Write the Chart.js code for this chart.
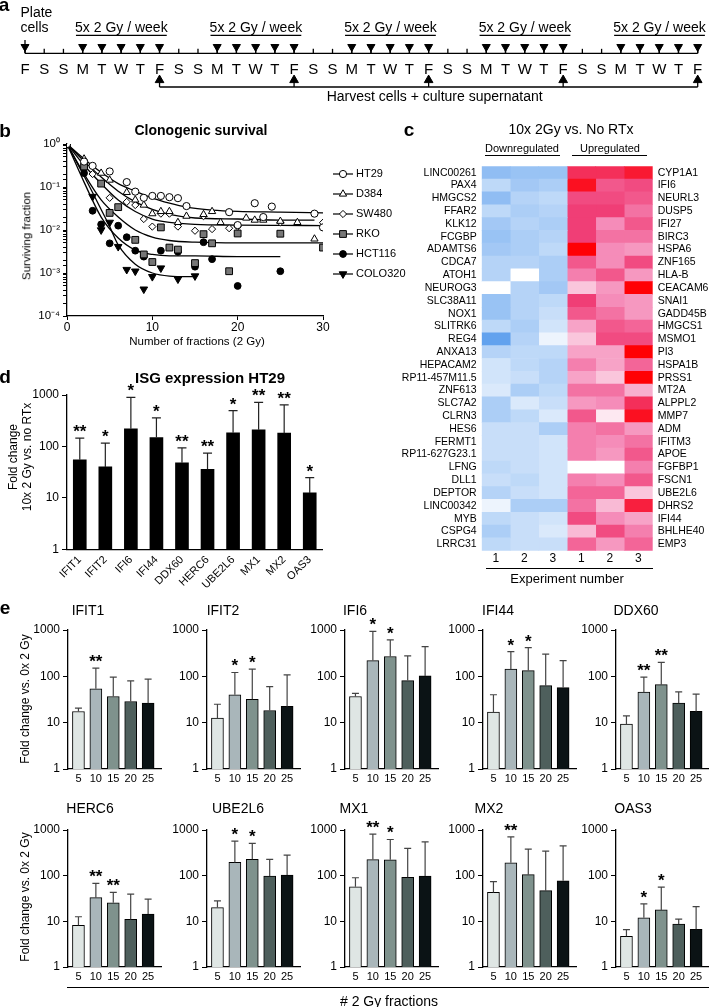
<!DOCTYPE html>
<html>
<head>
<meta charset="utf-8">
<title>Radiation induced ISG expression</title>
<script src="https://cdn.jsdelivr.net/npm/chart.js@4.4.1/dist/chart.umd.min.js"></script>
<style>
  html, body { margin: 0; padding: 0; background: #fff; }
  #page { position: relative; width: 709px; height: 1007px; overflow: hidden; background: #fff;
          font-family: "Liberation Sans", Arial, Helvetica, sans-serif; color: #000; }
  #page canvas { position: absolute; }
  .t { position: absolute; white-space: nowrap; line-height: 1; }
  .rule { position: absolute; height: 0; border-top: 1.3px solid #000; }
</style>
</head>
<body>
<div id="page"></div>
<script>
// ===== panel a : schedule =====
const days = ['F','S','S','M','T','W','T','F','S','S','M','T','W','T','F','S','S','M','T','W','T','F',
              'S','S','M','T','W','T','F','S','S','M','T','W','T','F'];
const irrDays = [3,4,5,6,7, 10,11,12,13,14, 17,18,19,20,21, 24,25,26,27,28, 31,32,33,34,35];
const weekBlocks = [[3,7],[10,14],[17,21],[24,28],[31,35]];
const weekLabel = '5x 2 Gy / week';
const harvestDays = [7,14,21,28,35];
const plateDay = 0;
const harvestLabel = 'Harvest cells + culture supernatant';

// ===== panel b : clonogenic survival =====
const cellLines = ['HT29','D384','SW480','RKO','HCT116','COLO320'];
const ht29Pts = [[0,1],[2,0.39],[3,0.31],[5,0.23],[7,0.13],[8,0.078],[9,0.056],[10,0.062],[11,0.062],[12,0.058],
                 [13,0.055],[14,0.036],[19,0.026],[20,0.013],[22,0.042],[23,0.02],[24,0.035],[29,0.024],[30,0.0115]];
const d384Pts = [[0,1],[2,0.45],[4,0.21],[5,0.145],[7,0.075],[8,0.05],[9,0.038],[10,0.024],[11,0.027],[12,0.027],
                 [13,0.015],[14,0.021],[16,0.023],[17,0.027],[18,0.015],[21,0.019],[22,0.017],[23,0.017],[25,0.016],[27,0.015],[29,0.0062]];
const sw480Pts = [[0,1],[3,0.2],[5,0.056],[7,0.045],[8,0.038],[9,0.018],[10,0.012],[11,0.024],[12,0.024],[13,0.012],
                  [15,0.0096],[16,0.021],[17,0.0105],[19,0.011],[20,0.012],[25,0.015],[30,0.0148]];
const rkoPts = [[0,1],[2,0.3],[4,0.12],[5,0.025],[6,0.034],[8,0.0059],[9,0.0027],[10,0.0018],[11,0.0115],[12,0.0039],
                [13,0.0035],[15,0.0017],[16,0.008],[17,0.0049],[19,0.0011],[20,0.0083],[25,0.0082],[30,0.0039]];
const hct116Pts = [[0,1],[2,0.21],[3,0.028],[4,0.0135],[5,0.0049],[6,0.0126],[7,0.0068],[8,0.0033],[9,0.0024],
                   [11,0.0033],[13,0.0031],[15,0.0014],[16,0.0052],[17,0.0021],[20,0.0005],[25,0.0011]];
const colo320Pts = [[0,1],[2,0.25],[3,0.06],[4,0.01],[5,0.015],[6,0.0041],[7,0.0012],[8,0.0011],[9,0.00042],
                    [10,0.00082],[11,0.0013],[13,0.00072],[15,0.00085]];
const ht29Fit = [[0,1],[2,0.45],[4,0.22],[6,0.12],[8,0.08],[10,0.055],[12,0.042],[14,0.034],[17,0.029],[20,0.027],[25,0.026],[30,0.025]];
const d384Fit = [[0,1],[2,0.4],[4,0.17],[6,0.08],[8,0.045],[10,0.03],[12,0.023],[15,0.019],[20,0.018],[25,0.017],[29,0.017]];
const sw480Fit = [[0,1],[2,0.32],[4,0.12],[6,0.05],[8,0.027],[10,0.018],[12,0.015],[15,0.0135],[20,0.013],[25,0.0128],[30,0.0127]];
const rkoFit = [[0,1],[2,0.2],[4,0.05],[6,0.02],[8,0.01],[10,0.0068],[12,0.0057],[15,0.0052],[20,0.005],[25,0.005],[30,0.005]];
const hct116Fit = [[0,1],[2,0.13],[4,0.02],[6,0.0065],[8,0.0034],[10,0.0027],[12,0.0025],[15,0.0025],[20,0.0024],[25,0.0024]];
const colo320Fit = [[0,1],[2,0.18],[4,0.03],[5,0.012],[6,0.0045],[8,0.0016],[10,0.001],[12,0.00085],[15,0.00082]];

// ===== panel c : heatmap =====
const downGenes = ['LINC00261','PAX4','HMGCS2','FFAR2','KLK12','FCGBP','ADAMTS6','CDCA7','ATOH1','NEUROG3',
  'SLC38A11','NOX1','SLITRK6','REG4','ANXA13','HEPACAM2','RP11-457M11.5','ZNF613','SLC7A2','CLRN3',
  'HES6','FERMT1','RP11-627G23.1','LFNG','DLL1','DEPTOR','LINC00342','MYB','CSPG4','LRRC31'];
const upGenes = ['CYP1A1','IFI6','NEURL3','DUSP5','IFI27','BIRC3','HSPA6','ZNF165','HLA-B','CEACAM6',
  'SNAI1','GADD45B','HMGCS1','MSMO1','PI3','HSPA1B','PRSS1','MT2A','ALPPL2','MMP7',
  'ADM','IFITM3','APOE','FGFBP1','FSCN1','UBE2L6','DHRS2','IFI44','BHLHE40','EMP3'];
// intensity of down-regulation (blue) / up-regulation (red), 0 = white
const downScores = [[0.6,0.55,0.55],[0.35,0.5,0.45],[0.6,0.4,0.35],[0.35,0.45,0.4],[0.5,0.4,0.45],
  [0.55,0.45,0.4],[0.5,0.45,0.35],[0.4,0.4,0.45],[0.4,0.0,0.45],[0.0,0.4,0.5],
  [0.55,0.4,0.35],[0.55,0.4,0.3],[0.35,0.45,0.25],[0.85,0.4,0.1],[0.4,0.35,0.35],
  [0.25,0.35,0.4],[0.25,0.3,0.4],[0.2,0.45,0.35],[0.45,0.2,0.3],[0.45,0.35,0.2],
  [0.3,0.3,0.45],[0.3,0.3,0.25],[0.3,0.3,0.25],[0.35,0.3,0.25],[0.3,0.35,0.25],
  [0.4,0.3,0.25],[0.1,0.45,0.45],[0.35,0.3,0.25],[0.45,0.3,0.2],[0.35,0.3,0.3]];
const upScores = [[0.85,0.85,0.92],[0.95,0.7,0.75],[0.75,0.75,0.7],[0.8,0.8,0.6],[0.8,0.5,0.7],
  [0.8,0.6,0.6],[1.0,0.5,0.45],[0.7,0.5,0.75],[0.55,0.7,0.45],[0.25,0.45,1.0],
  [0.8,0.5,0.45],[0.7,0.6,0.45],[0.4,0.7,0.65],[0.25,0.75,0.75],[0.4,0.4,1.0],
  [0.55,0.4,0.65],[0.4,0.25,1.0],[0.6,0.6,0.35],[0.45,0.5,0.85],[0.7,0.1,0.95],
  [0.55,0.6,0.45],[0.55,0.5,0.6],[0.55,0.45,0.7],[0.0,0.0,0.55],[0.55,0.5,0.7],
  [0.65,0.65,0.25],[0.6,0.3,0.9],[0.75,0.5,0.4],[0.3,0.75,0.55],[0.65,0.45,0.65]];
const expLabels = ['1','2','3','1','2','3'];

// ===== panel d : ISG expression HT29 =====
const isgGenes = ['IFIT1','IFIT2','IFI6','IFI44','DDX60','HERC6','UBE2L6','MX1','MX2','OAS3'];
const isgMean = [55, 40, 220, 149, 48, 36, 184, 210, 181, 12.5];
const isgErrTop = [145, 116, 900, 359, 94, 74, 497, 720, 640, 24.8];
const isgStars = ['**','*','*','*','**','**','*','**','**','*'];
const logTicks = [1, 10, 100, 1000];

// ===== panel e : fraction series =====
const fracLabels = ['5','10','15','20','25'];
const eGenes = ['IFIT1','IFIT2','IFI6','IFI44','DDX60','HERC6','UBE2L6','MX1','MX2','OAS3'];
const eMeans = [
  [17.4, 54, 36.7, 28.6, 26.4],
  [12.6, 40, 32, 18.3, 22.4],
  [36.7, 219, 268, 81, 102],
  [17, 143, 133, 63, 57],
  [9.3, 45.6, 66, 26.4, 17.5],
  [8.2, 33, 25.5, 11, 14.5],
  [20, 195, 228, 98, 103],
  [57, 225, 222, 92, 98],
  [43, 192, 105, 47, 77.5],
  [4.7, 12, 17.8, 8.7, 6.7]];
const eErrTop = [
  [20.6, 150, 96, 80, 87],
  [25, 121, 143, 60, 108],
  [43, 930, 612, 277, 438],
  [40, 343, 418, 302, 219],
  [14, 96, 200, 46, 41.4],
  [12.6, 68, 43, 39.6, 30.7],
  [28, 570, 510, 228, 282],
  [90, 815, 620, 395, 550],
  [74, 710, 380, 345, 450],
  [6.6, 24, 56, 11.2, 21]];
const eStars = [
  ['','**','','',''], ['','*','*','',''], ['','*','*','',''], ['','*','*','',''], ['','**','**','',''],
  ['','**','**','',''], ['','*','*','',''], ['','**','*','',''], ['','**','','',''], ['','*','*','','']];

// ---------- styles / layout ----------
const FONT = '"Liberation Sans", Arial, Helvetica, sans-serif';
const fracColors = ['#dfe6e4', '#a9b6ba', '#7f928d', '#4e5f5c', '#0b1315'];
const bMarkers = [
  { style: 'circle',   r: 3.6, rot: 0,   fill: '#fff' },
  { style: 'triangle', r: 4.2, rot: 0,   fill: '#fff' },
  { style: 'rectRot',  r: 3.6, rot: 0,   fill: '#fff' },
  { style: 'rect',     r: 4.8, rot: 0,   fill: '#777' },
  { style: 'circle',   r: 3.4, rot: 0,   fill: '#000' },
  { style: 'triangle', r: 4.4, rot: 180, fill: '#000' }
];
const eAxisX = [68.3, 206.7, 345, 483.3, 616];
const eRowTop = [630, 830];
const eRowBottom = [769.3, 967];
const eTitleX = [88, 223, 355, 498, 636, 90, 238, 354, 489, 633];
const eTitleY = [609.5, 808.3];

Chart.defaults.font.family = FONT;
Chart.defaults.color = '#000';
Chart.defaults.animation = false;
Chart.defaults.plugins.legend.display = false;
Chart.defaults.plugins.tooltip.enabled = false;

const page = document.getElementById('page');

function canvasAt(left, top, w, h) {
  const c = document.createElement('canvas');
  c.width = Math.round(w); c.height = Math.round(h);
  c.style.left = left + 'px'; c.style.top = top + 'px';
  c.style.width = Math.round(w) + 'px'; c.style.height = Math.round(h) + 'px';
  page.appendChild(c);
  return c;
}

function txt(s, x, y, size, opts = {}) {
  const d = document.createElement('div');
  d.className = 't';
  d.textContent = s;
  d.style.fontSize = size + 'px';
  d.style.left = x + 'px';
  d.style.top = y + 'px';
  if (opts.bold) d.style.fontWeight = 'bold';
  d.style.transform = opts.rot ? 'translate(-50%,-50%) rotate(-90deg)' : 'translate(-50%,-50%)';
  page.appendChild(d);
}

function rule(x1, x2, y) {
  const d = document.createElement('div');
  d.className = 'rule';
  d.style.left = x1 + 'px'; d.style.top = y + 'px'; d.style.width = (x2 - x1) + 'px';
  page.appendChild(d);
}

function sup(n) {
  const m = {'-': '\u207B', '0': '\u2070', '1': '\u00B9', '2': '\u00B2', '3': '\u00B3', '4': '\u2074'};
  return String(n).split('').map(ch => m[ch] || ch).join('');
}

function mix(a, b, t) {
  return a.map((v, i) => Math.round(v + (b[i] - v) * t));
}
function blueOf(t) {
  const c = mix([255, 255, 255], [70, 145, 235], t);
  return `rgb(${c[0]},${c[1]},${c[2]})`;
}
// white -> pink -> pink red -> red
function redOf(t) {
  let c;
  if (t <= 0.5) c = mix([255, 255, 255], [245, 140, 185], t / 0.5);
  else if (t <= 0.8) c = mix([245, 140, 185], [240, 62, 118], (t - 0.5) / 0.3);
  else c = mix([240, 62, 118], [255, 0, 5], (t - 0.8) / 0.2);
  return `rgb(${c[0]},${c[1]},${c[2]})`;
}

const blackAxis = { display: true, color: '#000', width: 1.3 };
const tickGrid = (len) => ({ display: true, drawOnChartArea: false, drawTicks: true, tickLength: len, color: '#000', lineWidth: 1 });

// error bars + significance stars for the bar panels
function errorBarPlugin(tops, stars, capW, color) {
  return {
    id: 'errBars',
    afterDatasetsDraw(chart) {
      const ctx = chart.ctx, y = chart.scales.y;
      const bars = chart.getDatasetMeta(0).data;
      ctx.save();
      bars.forEach((bar, i) => {
        const yt = y.getPixelForValue(tops[i]);
        ctx.strokeStyle = color;
        ctx.lineWidth = 1.2;
        ctx.beginPath();
        ctx.moveTo(bar.x, bar.y);
        ctx.lineTo(bar.x, yt);
        ctx.moveTo(bar.x - capW / 2, yt);
        ctx.lineTo(bar.x + capW / 2, yt);
        ctx.stroke();
        if (stars[i]) {
          ctx.fillStyle = '#000';
          ctx.font = 'bold 17px ' + FONT;
          ctx.textAlign = 'center';
          ctx.textBaseline = 'alphabetic';
          ctx.fillText(stars[i], bar.x, yt - 1);
        }
      });
      ctx.restore();
    }
  };
}

// ===== a =====
const timelinePlugin = {
  id: 'timeline',
  afterDraw(chart) {
    const ctx = chart.ctx, x = chart.scales.x, y = chart.scales.y;
    const base = y.getPixelForValue(53);
    const seg = (x1, y1, x2, y2) => { ctx.beginPath(); ctx.moveTo(x1, y1); ctx.lineTo(x2, y2); ctx.stroke(); };
    ctx.save();
    ctx.strokeStyle = '#000';
    ctx.fillStyle = '#000';
    ctx.lineWidth = 1.3;
    days.forEach((d, i) => { const px = x.getPixelForValue(i); seg(px, base - 4.5, px, base); });
    irrDays.forEach(d => { const px = x.getPixelForValue(d); seg(px, y.getPixelForValue(48), px, base); });
    const p0 = x.getPixelForValue(plateDay);
    seg(p0, y.getPixelForValue(38), p0, base);
    harvestDays.forEach(d => { const px = x.getPixelForValue(d); seg(px, y.getPixelForValue(85), px, y.getPixelForValue(90.7)); });

    ctx.font = '15px ' + FONT;
    ctx.textAlign = 'center';
    ctx.textBaseline = 'middle';
    days.forEach((d, i) => ctx.fillText(d, x.getPixelForValue(i), y.getPixelForValue(71)));

    ctx.font = '14px ' + FONT;
    ctx.textBaseline = 'alphabetic';
    weekBlocks.forEach(([a, b]) => {
      const l = x.getPixelForValue(a) - 6.7, r = x.getPixelForValue(b) + 7.2;
      seg(l, y.getPixelForValue(33), r, y.getPixelForValue(33));
      ctx.fillText(weekLabel, (l + r) / 2, y.getPixelForValue(29.5));
    });
    const mid = x.getPixelForValue((harvestDays[0] + harvestDays[harvestDays.length - 1]) / 2);
    ctx.fillText(harvestLabel, mid + 6, y.getPixelForValue(106.5));
    ctx.textAlign = 'left';
    ctx.fillText('Plate', p0 - 4.5, y.getPixelForValue(12.7));
    ctx.fillText('cells', p0 - 4.5, y.getPixelForValue(29.3));
    ctx.restore();
  }
};

new Chart(canvasAt(0, 0, 709, 112), {
  type: 'scatter',
  data: {
    datasets: [
      { data: irrDays.map(d => ({ x: d, y: 45.7 })), pointStyle: 'triangle', pointRotation: 180, pointRadius: 4.6,
        pointBackgroundColor: '#000', pointBorderColor: '#000', pointBorderWidth: 1, clip: false },
      { data: [{ x: plateDay, y: 45.7 }], pointStyle: 'triangle', pointRotation: 180, pointRadius: 4.6,
        pointBackgroundColor: '#000', pointBorderColor: '#000', pointBorderWidth: 1, clip: false },
      { data: harvestDays.map(d => ({ x: d, y: 83 })), pointStyle: 'triangle', pointRotation: 0, pointRadius: 5,
        pointBackgroundColor: '#000', pointBorderColor: '#000', pointBorderWidth: 1, clip: false },
      { data: [{ x: 0, y: 53 }, { x: days.length - 1, y: 53 }], showLine: true,
        borderColor: '#000', borderWidth: 1.3, pointRadius: 0, clip: false },
      { data: [{ x: harvestDays[0], y: 90.7 }, { x: harvestDays[harvestDays.length - 1], y: 90.7 }], showLine: true,
        borderColor: '#000', borderWidth: 1.3, pointRadius: 0, clip: false }
    ]
  },
  options: {
    responsive: false,
    layout: { padding: { left: 25, right: 11.3, top: 0, bottom: 0 } },
    scales: {
      x: { type: 'linear', min: 0, max: days.length - 1, display: false },
      y: { type: 'linear', min: 0, max: 112, reverse: true, display: false }
    }
  },
  plugins: [timelinePlugin]
});
txt('a', 4, 3.5, 19, { bold: true });

// ===== b =====
const bPoints = [ht29Pts, d384Pts, sw480Pts, rkoPts, hct116Pts, colo320Pts];
const bFits = [ht29Fit, d384Fit, sw480Fit, rkoFit, hct116Fit, colo320Fit];

const bLegendPlugin = {
  id: 'bLegend',
  afterDraw(chart) {
    const ctx = chart.ctx, area = chart.chartArea;
    const x0 = area.right + 10;
    ctx.save();
    cellLines.forEach((name, i) => {
      const m = bMarkers[i];
      const yy = 54 + i * 20;
      ctx.strokeStyle = '#000';
      ctx.lineWidth = 1.2;
      ctx.beginPath(); ctx.moveTo(x0, yy); ctx.lineTo(x0 + 20, yy); ctx.stroke();
      ctx.fillStyle = m.fill;
      ctx.lineWidth = 1;
      Chart.helpers.drawPoint(ctx, { pointStyle: m.style, rotation: m.rot, radius: m.r, borderWidth: 1 }, x0 + 10, yy);
      ctx.fillStyle = '#000';
      ctx.font = '11px ' + FONT;
      ctx.textAlign = 'left';
      ctx.textBaseline = 'middle';
      ctx.fillText(name, x0 + 23, yy);
    });
    ctx.restore();
  }
};

new Chart(canvasAt(0, 120, 415, 216), {
  type: 'scatter',
  data: {
    datasets: [
      ...bPoints.map((pts, i) => ({
        label: cellLines[i],
        data: pts.map(([x, y]) => ({ x, y })),
        pointStyle: bMarkers[i].style, pointRadius: bMarkers[i].r, pointRotation: bMarkers[i].rot,
        pointBackgroundColor: bMarkers[i].fill, pointBorderColor: '#000', pointBorderWidth: 1
      })),
      ...bFits.map((f, i) => ({
        type: 'line', label: cellLines[i] + ' fit',
        data: f.map(([x, y]) => ({ x, y })),
        borderColor: '#000', borderWidth: 1.3, pointRadius: 0, fill: false,
        tension: 0.4, cubicInterpolationMode: 'monotone'
      }))
    ]
  },
  options: {
    responsive: false,
    layout: { padding: { top: 24, left: 0, right: 92, bottom: 0 } },
    scales: {
      x: {
        type: 'linear', min: 0, max: 30,
        afterFit: s => { s.height = 20; },
        ticks: { stepSize: 10, font: { size: 12 }, padding: 0, maxRotation: 0 },
        grid: tickGrid(4), border: blackAxis
      },
      y: {
        type: 'logarithmic', min: 0.0001, max: 1,
        afterFit: s => { s.width = 67; },
        ticks: {
          autoSkip: false, font: { size: 11.5 }, padding: 3,
          callback: v => {
            const e = Math.log10(v), r = Math.round(e);
            return Math.abs(e - r) < 1e-6 ? '10' + sup(r) : '';
          }
        },
        grid: tickGrid(4), border: blackAxis
      }
    }
  },
  plugins: [bLegendPlugin]
});
txt('b', 5, 130, 19, { bold: true });
txt('Clonogenic survival', 201, 129.5, 14, { bold: true });
txt('Surviving fraction', 27, 236, 11.5, { rot: true });
txt('Number of fractions (2 Gy)', 197, 341.5, 11.5);

// ===== c =====
new Chart(canvasAt(360, 155, 349, 420), {
  type: 'bar',
  data: {
    labels: downGenes,
    datasets: expLabels.map((lab, j) => ({
      label: (j < 3 ? 'Down ' : 'Up ') + lab,
      data: downGenes.map(() => 1),
      backgroundColor: j < 3 ? downScores.map(r => blueOf(r[j])) : upScores.map(r => redOf(r[j - 3])),
      borderWidth: 0, barPercentage: 1, categoryPercentage: 1, stack: 'heat'
    }))
  },
  options: {
    indexAxis: 'y',
    responsive: false,
    layout: { padding: { top: 7.7, left: 0, right: 0, bottom: 0 } },
    scales: {
      x: {
        type: 'linear', stacked: true, min: 0, max: expLabels.length,
        afterFit: s => { s.height = 24.3; },
        afterBuildTicks: s => { s.ticks = expLabels.map((l, i) => ({ value: i + 0.5 })); },
        ticks: { autoSkip: false, maxRotation: 0, font: { size: 12 }, padding: 1, callback: (v, i) => expLabels[i] },
        grid: { display: false, drawTicks: false }, border: { display: false }
      },
      y: {
        stacked: true,
        afterFit: s => { s.width = 121.7; },
        ticks: { autoSkip: false, font: { size: 10.5 }, padding: 5 },
        grid: { display: false, drawTicks: false }, border: { display: false }
      },
      y2: {
        type: 'category', position: 'right', labels: upGenes, offset: true,
        afterFit: s => { s.width = 56.3; },
        ticks: { autoSkip: false, font: { size: 10.5 }, padding: 5 },
        grid: { display: false, drawTicks: false }, border: { display: false }
      }
    }
  }
});
txt('c', 409, 128.5, 19, { bold: true });
txt('10x 2Gy vs. No RTx', 571, 129, 14);
txt('Downregulated', 522, 148, 11);
txt('Upregulated', 610, 148, 11);
rule(485, 560, 155);
rule(572, 647, 155);
rule(486, 652.7, 568);
txt('Experiment number', 567, 577.5, 13);

// ===== d =====
new Chart(canvasAt(0, 375, 335, 225), {
  type: 'bar',
  data: {
    labels: isgGenes,
    datasets: [{ label: 'HT29', data: isgMean, backgroundColor: '#000', borderWidth: 0, barThickness: 13 }]
  },
  options: {
    responsive: false,
    layout: { padding: { top: 20, left: 0, right: 12.5, bottom: 0 } },
    scales: {
      x: {
        afterFit: s => { s.height = 50.7; },
        ticks: { autoSkip: false, minRotation: 45, maxRotation: 45, font: { size: 11 }, padding: 4 },
        grid: { display: false, drawTicks: false }, border: blackAxis
      },
      y: {
        type: 'logarithmic', min: 1, max: 1000,
        afterFit: s => { s.width = 67; },
        afterBuildTicks: s => { s.ticks = logTicks.map(v => ({ value: v })); },
        ticks: { font: { size: 12 }, padding: 3, callback: v => String(v) },
        grid: tickGrid(5), border: blackAxis
      }
    }
  },
  plugins: [errorBarPlugin(isgErrTop, isgStars, 9, '#222')]
});
txt('d', 5, 376, 19, { bold: true });
txt('ISG expression HT29', 210, 376.7, 15, { bold: true });
txt('Fold change', 12.5, 457, 12, { rot: true });
txt('10x 2 Gy vs. no RTx', 27, 457, 12, { rot: true });

// ===== e =====
eGenes.forEach((gene, k) => {
  const row = Math.floor(k / 5), col = k % 5;
  const ax = eAxisX[col], top = eRowTop[row], bottom = eRowBottom[row];
  const yw = 48, xh = 20, padTop = 22, plotW = 93;
  new Chart(canvasAt(ax - yw, top - padTop, yw + plotW + 4, padTop + (bottom - top) + xh), {
    type: 'bar',
    data: {
      datasets: [{
        label: gene,
        data: fracLabels.map((f, i) => ({ x: i + 1, y: eMeans[k][i] })),
        backgroundColor: fracColors, borderColor: '#000', borderWidth: 1, barThickness: 12
      }]
    },
    options: {
      responsive: false,
      layout: { padding: { top: padTop, left: 0, right: 4, bottom: 0 } },
      scales: {
        x: {
          type: 'linear', min: 0.4, max: 5.74, offset: false,
          afterFit: s => { s.height = xh; },
          afterBuildTicks: s => { s.ticks = fracLabels.map((f, i) => ({ value: i + 1 })); },
          ticks: { autoSkip: false, maxRotation: 0, font: { size: 11 }, padding: 3.5, callback: (v, i) => fracLabels[i] },
          grid: { display: false, drawTicks: false, offset: false }, border: blackAxis
        },
        y: {
          type: 'logarithmic', min: 1, max: 1000,
          afterFit: s => { s.width = yw; },
          afterBuildTicks: s => { s.ticks = logTicks.map(v => ({ value: v })); },
          ticks: { font: { size: 12 }, padding: 3, callback: v => String(v) },
          grid: tickGrid(5), border: blackAxis
        }
      }
    },
    plugins: [errorBarPlugin(eErrTop[k], eStars[k], 7, '#444')]
  });
  txt(gene, eTitleX[k], eTitleY[row], 14);
});
txt('e', 5, 607, 19, { bold: true });
txt('Fold change vs. 0x 2 Gy', 25, 699, 12, { rot: true });
txt('Fold change vs. 0x 2 Gy', 25, 897, 12, { rot: true });
rule(66.7, 709, 987);
txt('# 2 Gy fractions', 389, 1001, 14);
</script>
</body>
</html>
